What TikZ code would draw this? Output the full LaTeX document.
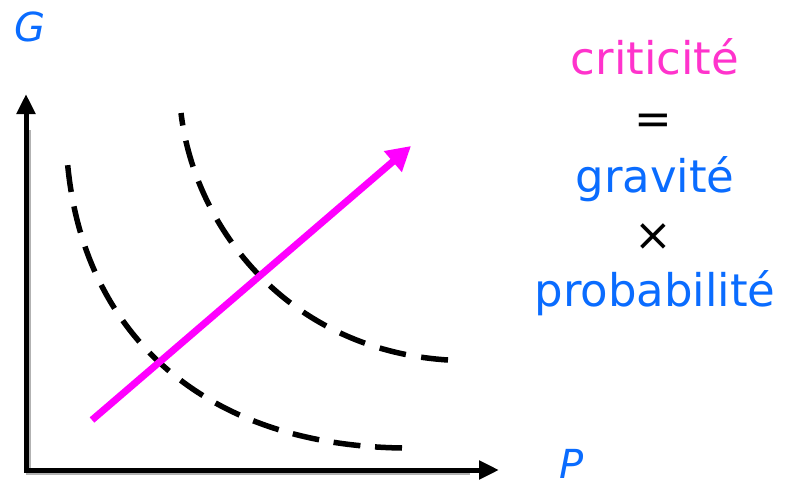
\documentclass[tikz,border=0pt]{standalone}
\usepackage{fontspec}
\setmainfont{DejaVu Sans}
\usetikzlibrary{arrows.meta}
\definecolor{tblue}{HTML}{0A6CFF}
\definecolor{tpink}{HTML}{FF33CC}
\definecolor{amag}{HTML}{FF00FF}
\begin{document}
\begin{tikzpicture}[x=1pt,y=-1pt,
  axis/.style={line width=5pt,-{Triangle[length=20pt,width=18pt]}},
  shadow/.style={line width=5pt,draw=black!30},
  curve/.style={line width=5.5pt},
  txt/.style={font=\fontsize{45}{45}\selectfont,anchor=base},
  lbl/.style={font=\fontsize{40}{40}\selectfont\itshape,text=tblue,anchor=base}]
\useasboundingbox (0,0) rectangle (793,487);
\coordinate (O) at (26,470);
\coordinate (Ytip) at (26,94);
\coordinate (Xtip) at (499,470);
% shadow
\draw[shadow] (28,130) -- (28,472) -- (470,472);
\draw[axis] (O) -- (Ytip);
\draw[axis] (O) -- (Xtip);
\fill (23.5,467.5) rectangle (28.5,472.5);
% dashed curves (drawn from the lower right end)
\coordinate (c1s) at (67,157);
\coordinate (c1e) at (402,448);
\draw[curve,dash pattern=on 27pt off 14.7pt] (c1e) .. controls (200,445) and (80,330) .. (c1s);
\coordinate (c2s) at (181,113);
\coordinate (c2e) at (448,360);
\draw[curve,dash pattern=on 27pt off 15.5pt] (c2e) .. controls (290,350) and (195,230) .. (c2s);
% magenta arrow
\coordinate (ms) at (92,420);
\coordinate (me) at (411,146);
\draw[amag,line width=7pt,-{Triangle[length=24pt,width=26pt]}] (ms) -- (me);
% labels
\node[lbl] (G) at (30,42) {G};
\node[lbl] (P) at (572,478) {P};
\node[txt,text=tpink] (crit) at (655,75) {criticité};
\node[txt] (eq) at (653,134) {=};
\node[txt,text=tblue] (grav) at (655,192) {gravité};
\node[txt] (times) at (653,250) {×};
\node[txt,text=tblue] (prob) at (655,306) {probabilité};
\end{tikzpicture}
\end{document}
